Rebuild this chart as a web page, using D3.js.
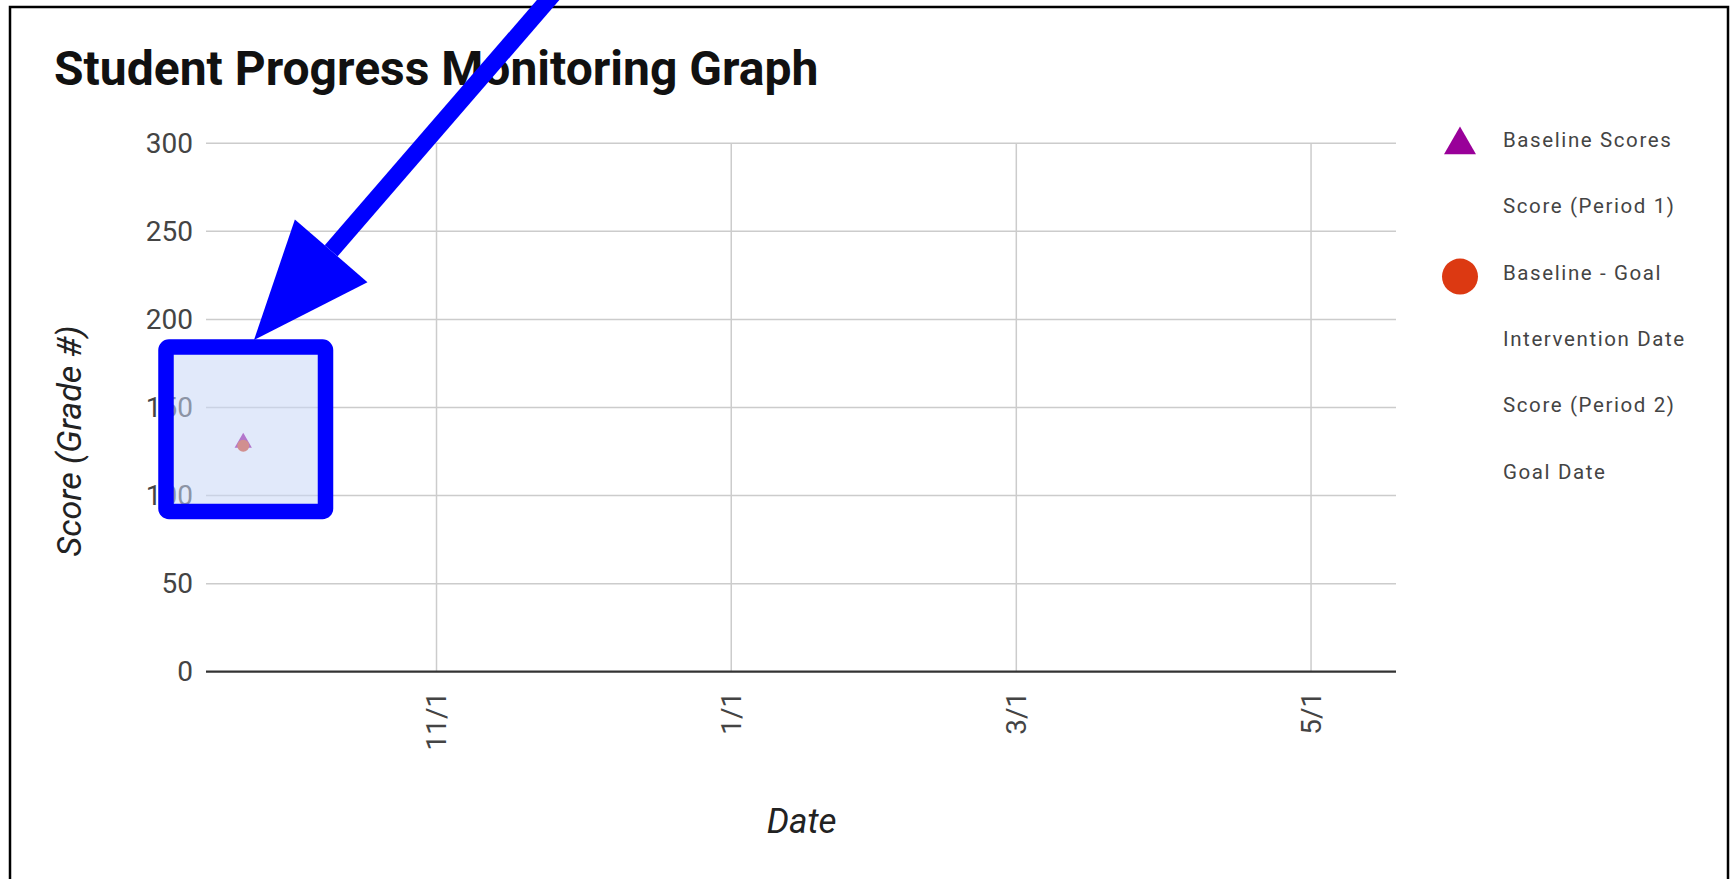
<!DOCTYPE html>
<html>
<head>
<meta charset="utf-8">
<script src="https://cdn.jsdelivr.net/npm/d3@7"></script>
<style>
  html, body { margin: 0; padding: 0; background: #fff; }
  svg { display: block; font-family: Roboto, "Noto Sans", sans-serif; }
</style>
</head>
<body>
<svg id="chart" width="1733" height="879"></svg>
<script>
// ---- chart data ----
const chartTitle = "Student Progress Monitoring Graph";
const yAxisTitle = "Score (Grade #)";
const xAxisTitle = "Date";
const yTicks = [0, 50, 100, 150, 200, 250, 300];
const xTickDates = ["2018-11-01", "2019-01-01", "2019-03-01", "2019-05-01"];
const xTickLabels = ["11/1", "1/1", "3/1", "5/1"];
const xDomain = ["2018-09-14T07:00", "2019-05-18T14:00"];
const legendLabels = ["Baseline Scores", "Score (Period 1)", "Baseline - Goal",
                      "Intervention Date", "Score (Period 2)", "Goal Date"];
const legendShapes = ["triangle", null, "circle", null, null, null];
const baselineDates = ["2018-09-22"];
const baselineScores = [130];
const goalDates = ["2018-09-22"];
const goalScores = [130];

// ---- layout ----
const svg = d3.select("#chart");
const plot = { left: 206, right: 1396, top: 143.3, bottom: 671.7 };
const COLORS = { baseline: "#990099", goal: "#dc3912", grid: "#cccccc", axis: "#333333" };

const parseT = d3.isoParse;
const x = d3.scaleUtc()
  .domain(xDomain.map(d => new Date(d + "Z")))
  .range([plot.left, plot.right]);
const y = d3.scaleLinear().domain([0, 300]).range([plot.bottom, plot.top]);

// outer frame
svg.append("rect")
  .attr("x", 10).attr("y", 7).attr("width", 1718).attr("height", 900)
  .attr("fill", "none").attr("stroke", "#000").attr("stroke-width", 2.5);

// title
svg.append("text")
  .attr("x", 54).attr("y", 85)
  .attr("font-size", 48).attr("font-weight", 700).attr("fill", "#111")
  .text(chartTitle);

// horizontal gridlines
svg.append("g").selectAll("line")
  .data(yTicks.filter(v => v !== 0))
  .join("line")
  .attr("x1", plot.left).attr("x2", plot.right)
  .attr("y1", d => y(d)).attr("y2", d => y(d))
  .attr("stroke", COLORS.grid).attr("stroke-width", 1.5);

// vertical gridlines at date ticks
const tickDates = xTickDates.map(d => new Date(d + "T00:00Z"));
svg.append("g").selectAll("line")
  .data(tickDates)
  .join("line")
  .attr("x1", d => x(d)).attr("x2", d => x(d))
  .attr("y1", plot.top).attr("y2", plot.bottom)
  .attr("stroke", COLORS.grid).attr("stroke-width", 1.5);

// y axis labels
const yAxis = d3.axisLeft(y).tickValues(yTicks).tickSize(0).tickPadding(13);
const gy = svg.append("g").attr("transform", `translate(${plot.left},0)`).call(yAxis);
gy.select(".domain").remove();
gy.selectAll("text")
  .attr("font-family", "Roboto, sans-serif")
  .attr("font-size", 28).attr("fill", "#444").attr("dy", "0.33em");

// x axis with rotated date labels
const xAxis = d3.axisBottom(x)
  .tickValues(tickDates)
  .tickFormat((d, i) => xTickLabels[i])
  .tickSize(0);
const gx = svg.append("g").attr("transform", `translate(0,${plot.bottom})`).call(xAxis);
gx.select(".domain").remove();
gx.selectAll("text")
  .attr("font-family", "Roboto, sans-serif")
  .attr("font-size", 28).attr("fill", "#444")
  .attr("transform", "rotate(-90)")
  .attr("text-anchor", "end")
  .attr("x", -20).attr("y", 9).attr("dy", null);

// baseline (zero) axis line
svg.append("line")
  .attr("x1", plot.left).attr("x2", plot.right)
  .attr("y1", y(0)).attr("y2", y(0))
  .attr("stroke", COLORS.axis).attr("stroke-width", 2.2);

// data markers
const tri = d3.symbol().type(d3.symbolTriangle);
svg.append("g").selectAll("path")
  .data(baselineDates.map((d, i) => ({ date: new Date(d + "T00:00Z"), value: baselineScores[i] })))
  .join("path")
  .attr("d", tri.size(130)())
  .attr("transform", d => `translate(${x(d.date)},${y(d.value)})`)
  .attr("fill", COLORS.baseline);
svg.append("g").selectAll("circle")
  .data(goalDates.map((d, i) => ({ date: new Date(d + "T00:00Z"), value: goalScores[i] })))
  .join("circle")
  .attr("cx", d => x(d.date)).attr("cy", d => y(d.value) + 3)
  .attr("r", 6)
  .attr("fill", COLORS.goal);

// axis titles
svg.append("text")
  .attr("transform", "translate(81,441) rotate(-90)")
  .attr("text-anchor", "middle")
  .attr("font-size", 34).attr("font-style", "italic").attr("fill", "#222")
  .text(yAxisTitle);
svg.append("text")
  .attr("x", 801.7).attr("y", 833)
  .attr("text-anchor", "middle")
  .attr("font-size", 35).attr("font-style", "italic").attr("fill", "#222")
  .text(xAxisTitle);

// legend
const legendTop = 140, legendStep = 66.3;
const legend = svg.append("g").selectAll("g")
  .data(legendLabels.map((label, i) => ({ label, shape: legendShapes[i], i })))
  .join("g")
  .attr("transform", d => `translate(0,${legendTop + d.i * legendStep})`);
legend.append("text")
  .attr("x", 1503).attr("dy", "0.35em")
  .attr("font-size", 20.5).attr("letter-spacing", 1.6).attr("fill", "#444")
  .text(d => d.label);
legend.filter(d => d.shape === "triangle").append("path")
  .attr("d", d3.symbol().type(d3.symbolTriangle).size(443)())
  .attr("transform", "translate(1460,5)")
  .attr("fill", COLORS.baseline);
legend.filter(d => d.shape === "circle").append("circle")
  .attr("cx", 1460).attr("cy", 4).attr("r", 18)
  .attr("fill", COLORS.goal);

// highlight box around the first score
svg.append("rect")
  .attr("x", 166).attr("y", 347).attr("width", 159.5).attr("height", 164.5)
  .attr("rx", 3)
  .attr("fill", "rgb(200,215,245)").attr("fill-opacity", 0.55)
  .attr("stroke", "#0000ff").attr("stroke-width", 15.5)
  .attr("stroke-linejoin", "round");

// pointer arrow
const tip = [254, 340];
const dir = [0.654, -0.756];
const headLen = 118, headHalf = 48;
const baseMid = [tip[0] + headLen * dir[0], tip[1] + headLen * dir[1]];
const perp = [-dir[1], dir[0]];
svg.append("line")
  .attr("x1", baseMid[0]).attr("y1", baseMid[1])
  .attr("x2", tip[0] + 480 * dir[0]).attr("y2", tip[1] + 480 * dir[1])
  .attr("stroke", "#0000ff").attr("stroke-width", 17);
svg.append("path")
  .attr("d", d3.line()([
    tip,
    [baseMid[0] + headHalf * perp[0], baseMid[1] + headHalf * perp[1]],
    [baseMid[0] - headHalf * perp[0], baseMid[1] - headHalf * perp[1]]
  ]) + "Z")
  .attr("fill", "#0000ff");
</script>
</body>
</html>
